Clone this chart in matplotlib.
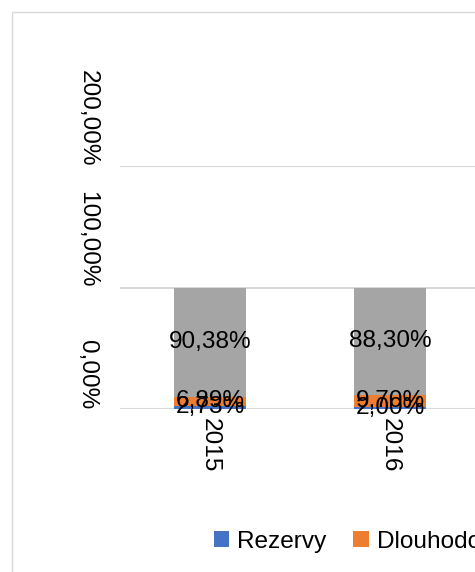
import matplotlib
matplotlib.use("Agg")
import matplotlib.pyplot as plt
from matplotlib.patches import Rectangle

plt.rcParams["font.family"] = ["Liberation Sans", "DejaVu Sans"]

years = ["2015", "2016"]
series_names = ["Rezervy", "Dlouhodobé závazky", "Vlastní kapitál"]
rezervy = [2.73, 2.00]
dlouhodobe = [6.89, 9.70]
vlastni = [90.38, 88.30]
series_values = [rezervy, dlouhodobe, vlastni]
series_colors = ["#4472C4", "#ED7D31", "#A5A5A5"]
y_ticks = [0, 100, 200]

W, H, DPI = 475, 572, 100
FS = 17.6


def pct(v):
    return f"{v:.2f}".replace(".", ",") + "%"


fig = plt.figure(figsize=(W / DPI, H / DPI), dpi=DPI)

# light chart frame, cut off on the right and bottom
fig.patches.append(Rectangle((12 / W, -0.1), 1.2, 1 - 12 / H + 0.1,
                             transform=fig.transFigure, fill=False,
                             edgecolor="#D9D9D9", lw=1.0))

ax = fig.add_axes([120 / W, 1 - 409 / H, 360 / W, 243 / H])
ax.set_xlim(-0.5, 1.5)
ax.set_ylim(0, 200)

x = list(range(len(years)))
bottom = [0.0] * len(years)
handles = []
for name, vals, col in zip(series_names, series_values, series_colors):
    bars = ax.bar(x, vals, width=0.405, bottom=bottom, color=col, label=name, zorder=3)
    handles.append(bars)
    for xi, v, b in zip(x, vals, bottom):
        ax.text(xi, b + v / 2, pct(v), ha="center", va="center",
                fontsize=FS, color="black", zorder=4)
    bottom = [b + v for b, v in zip(bottom, vals)]

ax.set_yticks(y_ticks)
ax.set_yticklabels([pct(t) for t in y_ticks], rotation=270, va="bottom",
                   ha="center", fontsize=FS)
ax.tick_params(axis="y", length=0, pad=23.5)
ax.set_xticks(x)
ax.set_xticklabels(years, rotation=270, va="top", ha="center", fontsize=FS)
ax.tick_params(axis="x", length=0, pad=6.5)

ax.grid(axis="y", color="#D9D9D9", lw=1.5, zorder=0)
for s in ax.spines.values():
    s.set_visible(False)

fig.legend(handles=handles, labels=series_names, loc="center left",
           bbox_to_anchor=(214 / W, 1 - 542 / H), ncol=3, frameon=False,
           fontsize=FS, handlelength=0.62, handleheight=0.62,
           handletextpad=0.33, columnspacing=1.1, borderpad=0, borderaxespad=0)

fig.savefig("out.png", dpi=DPI)
